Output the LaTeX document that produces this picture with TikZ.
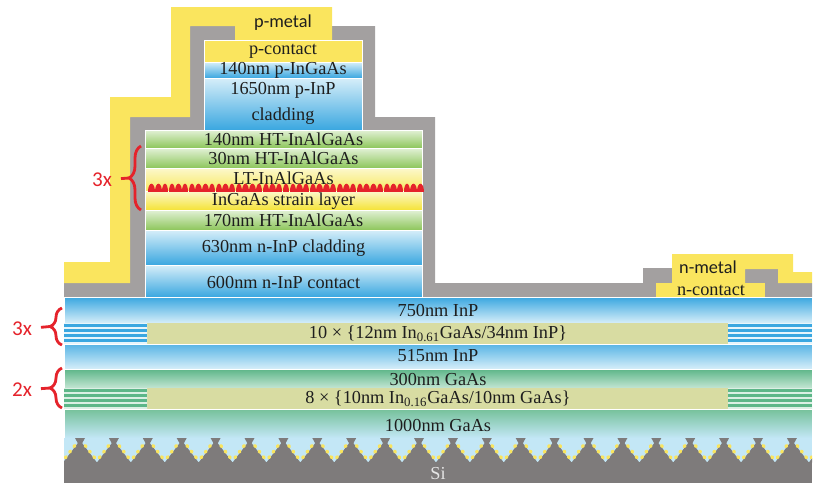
\documentclass[tikz,border=0pt]{standalone}
\usepackage{fontspec}
\setmainfont{Liberation Serif}
\newfontfamily\calfont{Carlito}
\usetikzlibrary{decorations.pathreplacing}

\definecolor{inpdark}{HTML}{3AA7E0}
\definecolor{inplight}{HTML}{D6EEF9}
\definecolor{algreen}{HTML}{8DC65B}
\definecolor{allight}{HTML}{E2F1D6}
\definecolor{gaasgreen}{HTML}{5DB688}
\definecolor{gaaslight}{HTML}{C3E5D3}
\definecolor{ingaasyel}{HTML}{F5E337}
\definecolor{yellight}{HTML}{FCF8CC}
\definecolor{slolive}{HTML}{D8DCA2}
\definecolor{metalyel}{HTML}{FAE55E}
\definecolor{passgray}{HTML}{A3A0A0}
\definecolor{sigray}{HTML}{7E7B7B}
\definecolor{fillblue}{HTML}{C3E7F6}
\definecolor{repred}{HTML}{E5232B}
\definecolor{txtdark}{HTML}{1E1E1E}

\tikzset{
  lyr/.style = {draw=white, line width=0.5pt},
  lyr_t/.style = {inner sep=0pt, align=center, text=txtdark, font=\fontsize{13}{18.5}\selectfont},
  mtl_t/.style = {inner sep=0pt, text=txtdark, font=\calfont\fontsize{13}{16}\selectfont},
  rep_t/.style = {inner sep=0pt, text=repred, font=\calfont\fontsize{15}{18}\selectfont},
  rep_br/.style = {repred, line width=2pt, decorate, decoration={brace, amplitude=0.3cm}},
  rep_ln/.style = {repred, line width=2pt, shorten <=0.22cm},
  si_dot/.style = {metalyel, line width=2.3pt, line cap=round, dash pattern=on 1pt off 4pt}
}

\begin{document}
\begin{tikzpicture}[x=0.025cm, y=-0.025cm]
\useasboundingbox (0,0) rectangle (814,483);

% passivation
\fill[passgray] (64,297) -- (64,283) -- (130,283) -- (130,117) -- (190,117) -- (190,26) -- (375,26)
  -- (375,117) -- (435,117) -- (435,283) -- (643,283) -- (643,268) -- (672,268) -- (672,297) -- cycle;
\fill[passgray] (745,269) -- (778,269) -- (778,283) -- (812,283) -- (812,297) -- (765,297) -- (765,283) -- (745,283) -- cycle;

% metals
\fill[metalyel] (171,7) -- (332,7) -- (332,40) -- (235,40) -- (235,26) -- (190,26) -- (190,117) -- (130,117)
  -- (130,283) -- (64,283) -- (64,262) -- (110,262) -- (110,97) -- (171,97) -- cycle;
\fill[metalyel] (672,254) -- (793,254) -- (793,272) -- (812,272) -- (812,283) -- (778,283) -- (778,269)
  -- (745,269) -- (745,283) -- (672,283) -- cycle;
\fill[metalyel] (656,283) rectangle (765,297);

% ridge
\filldraw[lyr, fill=metalyel] (204,40) rectangle (362,62);
\shadedraw[lyr, top color=inplight, bottom color=inpdark] (204,62) rectangle (362,78);
\shadedraw[lyr, top color=inplight, bottom color=inpdark] (204,78) rectangle (362,130);

% mesa
\shadedraw[lyr, top color=allight, bottom color=algreen] (145,130) rectangle (422,148);
\shadedraw[lyr, top color=allight, bottom color=algreen] (145,148) rectangle (422,168);
\shadedraw[lyr, top color=yellight, bottom color=ingaasyel!80!white] (145,168) rectangle (422,191);
\shadedraw[lyr, top color=yellight, bottom color=ingaasyel] (145,191) rectangle (422,210);
\shadedraw[lyr, top color=allight, bottom color=algreen] (145,210) rectangle (422,230);
\shadedraw[lyr, top color=inplight, bottom color=inpdark] (145,230) rectangle (422,265);
\shadedraw[lyr, top color=inplight, bottom color=inpdark] (145,265) rectangle (422,297);

% buffer
\shadedraw[lyr, top color=inpdark, bottom color=inplight] (64,297) rectangle (812,323);
\fill[slolive] (147,323) rectangle (728,344);
\fill[inplight!60!white] (64,323) rectangle (147,344) (728,323) rectangle (812,344);
\foreach \y in {323.5,328.5,333.5,338.5} {
  \fill[inpdark] (64,\y) rectangle (147,{\y+3});
  \fill[inpdark] (728,\y) rectangle (812,{\y+3});
}
\shadedraw[lyr, top color=inpdark!85!white, bottom color=inplight] (64,344) rectangle (812,369);
\shadedraw[lyr, top color=gaasgreen, bottom color=gaaslight] (64,369) rectangle (812,388);
\fill[slolive] (147,388) rectangle (728,409);
\fill[gaaslight!60!white] (64,388) rectangle (147,409) (728,388) rectangle (812,409);
\foreach \y in {388.5,393.5,398.5,403.5} {
  \fill[gaasgreen] (64,\y) rectangle (147,{\y+3});
  \fill[gaasgreen] (728,\y) rectangle (812,{\y+3});
}
\shadedraw[lyr, top color=gaasgreen!85!white, bottom color=fillblue] (64,409) rectangle (812,438);

% Si with V-grooves
\fill[fillblue] (64,438) rectangle (812,483);
\fill[sigray] (64,462) rectangle (812,483);
\begin{scope}
  \clip (64,438) rectangle (812,483);
  \foreach \k in {0,...,22} {
    \fill[sigray] ({63.05+33.9*\k},462.5) -- ({78+33.9*\k},443) -- ({82+33.9*\k},443) -- ({96.95+33.9*\k},462.5) -- cycle;
    \fill[sigray] ({75+33.9*\k},438) -- ({85+33.9*\k},438) -- ({82+33.9*\k},443.5) -- ({78+33.9*\k},443.5) -- cycle;
    \draw[si_dot] ({74.8+33.9*\k},445.5) -- ({63.2+33.9*\k},460.5);
    \draw[si_dot] ({85.2+33.9*\k},445.5) -- ({96.8+33.9*\k},460.5);
  }
\end{scope}

% labels
\node[mtl_t] (pmet) at (283,23) {p-metal};
\node[lyr_t] (pcon) at (283,51) {p-contact};
\node[lyr_t] (pinga) at (283,70) {140nm p-InGaAs};
\node[lyr_t] (pclad) at (283,103) {1650nm p-InP\\cladding};
\node[lyr_t] (ht140) at (283.5,139) {140nm HT-InAlGaAs};
\node[lyr_t] (ht30) at (283.5,158) {30nm HT-InAlGaAs};
\node[lyr_t] (lt) at (283.5,178) {LT-InAlGaAs};
\node[lyr_t] (strain) at (283.5,201) {InGaAs strain layer};
\node[lyr_t] (ht170) at (283.5,220) {170nm HT-InAlGaAs};
\node[lyr_t] (nclad) at (283.5,248) {630nm n-InP cladding};
\node[lyr_t] (ncon) at (283.5,282) {600nm n-InP contact};
\node[mtl_t] (nmet) at (708,267) {n-metal};
\node[lyr_t] (ncontact) at (711,290) {n-contact};
\node[lyr_t] (inp750) at (438,310) {750nm InP};
\node[lyr_t] (sl1) at (438,334) {10 × \{12nm In\textsubscript{0.61}GaAs/34nm InP\}};
\node[lyr_t] (inp515) at (438,356) {515nm InP};
\node[lyr_t] (gaas300) at (438,379) {300nm GaAs};
\node[lyr_t] (sl2) at (438,399) {8 × \{10nm In\textsubscript{0.16}GaAs/10nm GaAs\}};
\node[lyr_t] (gaas1000) at (438,425) {1000nm GaAs};
\node[lyr_t, text=white!90!black] (si) at (438,474) {Si};

% quantum dots
\foreach \k in {0,...,40}
  \fill[repred] ({145+3.4+6.72*\k},191.5) .. controls ({145+3.4+6.72*\k},181) and ({145+9.8+6.72*\k},181) .. ({145+9.8+6.72*\k},191.5) -- cycle;

% repeats
\coordinate (qtip) at (129,178);
\coordinate (sl1tip) at (50,326.5);
\coordinate (sl2tip) at (50,388);
\node[rep_t] (qrep) at (102,180) {3x};
\node[rep_t] (sl1rep) at (22,329) {3x};
\node[rep_t] (sl2rep) at (22,390) {2x};
\draw[rep_br] (141,210) -- (141,146);
\draw[rep_br] (62,345) -- (62,308);
\draw[rep_br] (62,408) -- (62,368);
\draw[rep_ln] (qrep) -- (qtip);
\draw[rep_ln] (sl1rep) -- (sl1tip);
\draw[rep_ln] (sl2rep) -- (sl2tip);
\end{tikzpicture}
\end{document}
